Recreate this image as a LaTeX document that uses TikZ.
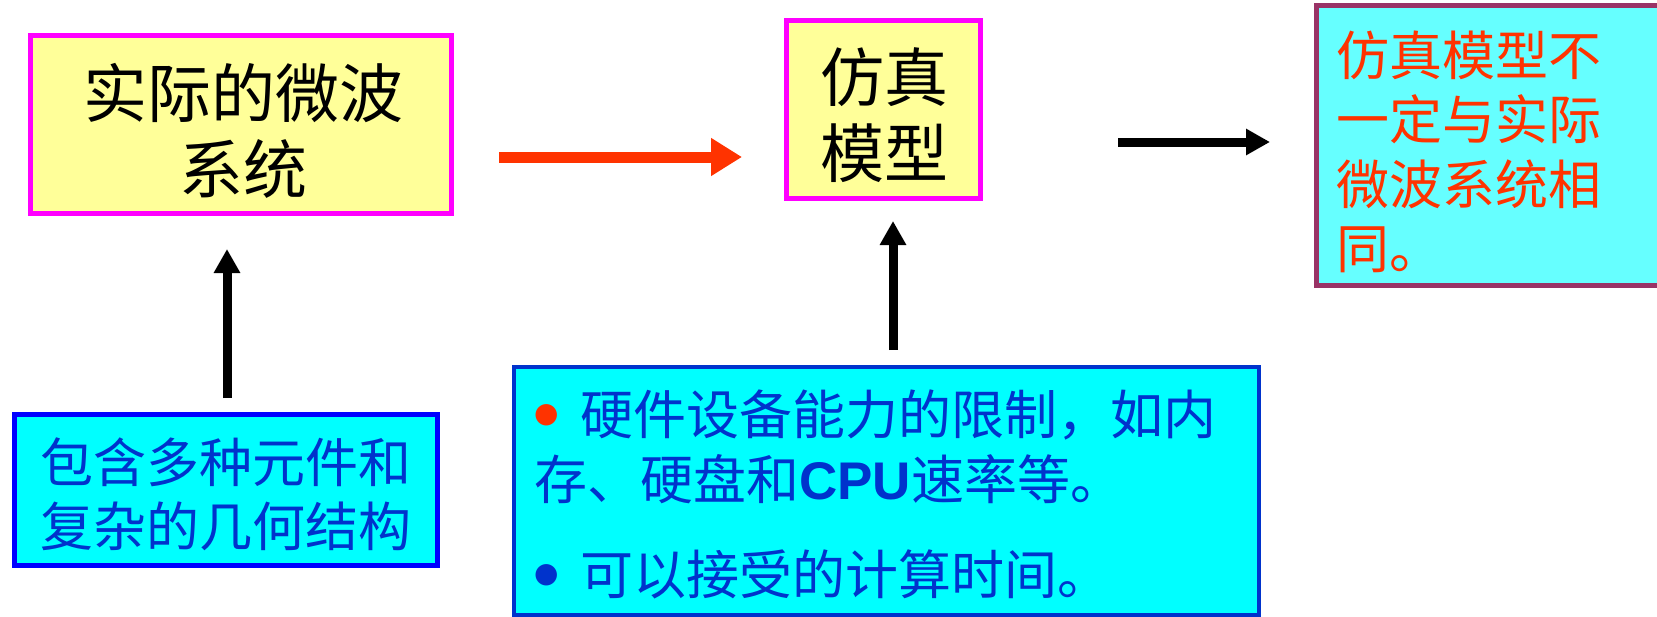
\documentclass[tikz,border=0pt]{standalone}
\usepackage{fontspec}
\setmainfont{Noto Sans CJK SC}
\newfontfamily\latinb{Liberation Sans}
\newfontfamily\symb{DejaVu Sans}
\usetikzlibrary{arrows.meta}
\definecolor{magbd}{HTML}{FF00FF}
\definecolor{yelfill}{HTML}{FFFF99}
\definecolor{cyanfill}{HTML}{00FFFF}
\definecolor{cyanlight}{HTML}{66FFFF}
\definecolor{plumbd}{HTML}{993366}
\definecolor{bluebd}{HTML}{0000FF}
\definecolor{blueebd}{HTML}{0033CC}
\definecolor{bluetxt}{HTML}{0033CC}
\definecolor{redtxt}{HTML}{FF3300}
\newcommand{\bigbul}{{\fontsize{28}{28}\selectfont\symb\raisebox{11.5pt}{●}}}
\begin{document}
\begin{tikzpicture}[x=1pt,y=-1pt,
  yelbox/.style={draw=magbd,fill=yelfill,line width=5pt,inner sep=0pt},
  cyanbox/.style={fill=cyanfill,line width=5pt,inner sep=0pt},
  bigtxt/.style={font={\fontsize{64}{76}\selectfont},inner sep=0pt,align=center},
  midtxt/.style={font={\fontsize{53}{64}\selectfont},inner sep=0pt},
  eline/.style={midtxt,anchor=west,text=bluetxt,text height=46.6pt,text depth=6.4pt},
  redarr/.style={draw=redtxt,line width=11pt,-{Triangle[length=31pt,width=36pt]}},
  blkarr/.style={draw=black,line width=9pt,-{Triangle[length=24pt,width=25pt]}}
]
\useasboundingbox (0,0) rectangle (1657,616);
% boxes
\node[yelbox,minimum width=421pt,minimum height=178pt] (A) at (241,124.5) {};
\node[bigtxt] (At) at (243,131) {实际的微波\\系统};
\node[yelbox,minimum width=194pt,minimum height=178pt] (B) at (883.5,109.5) {};
\node[bigtxt] (Bt) at (884,115) {仿真\\模型};
\node[draw=plumbd,fill=cyanlight,line width=5pt,inner sep=0pt,minimum width=361pt,minimum height=280pt] (C) at (1497,145.5) {};
\node[midtxt,align=left,anchor=west,text=redtxt,font={\fontsize{53}{64.5}\selectfont}] (Ct) at (1336,152) {仿真模型不\\一定与实际\\微波系统相\\同。};
\node[cyanbox,draw=bluebd,minimum width=423pt,minimum height=151pt] (D) at (226,490) {};
\node[midtxt,align=center,text=bluetxt] (Dt) at (226,494) {包含多种元件和\\复杂的几何结构};
\node[cyanbox,draw=blueebd,line width=4pt,minimum width=745pt,minimum height=248pt] (E) at (886,491) {};
\node[eline] (E1) at (534,414) {{\color{redtxt}\bigbul}\hspace{22pt}硬件设备能力的限制，如内};
\node[eline] (E2) at (534,479) {存、硬盘和{\latinb\bfseries CPU}速率等。};
\node[eline] (E3) at (534,574) {\bigbul\hspace{22pt}可以接受的计算时间。};
% arrows
\coordinate (ra) at (499,157);
\coordinate (rb) at (742,157);
\draw[redarr] (ra) -- (rb);
\coordinate (ka) at (1118,142);
\coordinate (kb) at (1270,142);
\draw[blkarr] (ka) -- (kb);
\draw[blkarr,shorten <=14pt,shorten >=33pt] ([xshift=1pt]D.north) -- ([xshift=1pt]D.north |- A.south);
\draw[blkarr,shorten <=15pt,shorten >=20pt] ([xshift=7pt]E.north) -- ([xshift=7pt]E.north |- B.south);
\end{tikzpicture}
\end{document}
